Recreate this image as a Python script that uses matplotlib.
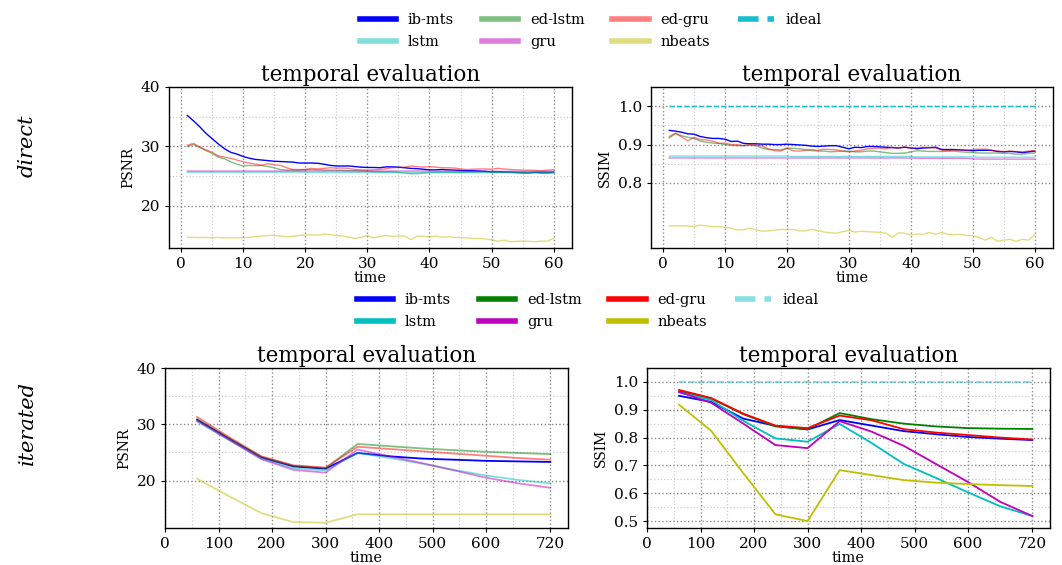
import matplotlib
matplotlib.use("Agg")
import matplotlib.pyplot as plt
from matplotlib.ticker import FixedLocator

plt.rcParams['font.family'] = ['DejaVu Serif']

labels = ['ib-mts', 'ed-lstm', 'ed-gru', 'ideal', 'lstm', 'gru', 'nbeats']
# legend fills column by column, this order gives the rows of the original
leg_order = [0, 4, 1, 5, 2, 6, 3]

# direct evaluation, steps 1..60
t_direct = list(range(1, 61))

psnr_ibmts = [35.2, 34.3, 33.3, 32.2, 31.3, 30.4, 29.6, 29.0, 28.7, 28.3,
              28.0, 27.8, 27.7, 27.6, 27.5, 27.45, 27.4, 27.35, 27.2, 27.2,
              27.2, 27.15, 27.0, 26.8, 26.7, 26.7, 26.7, 26.6, 26.5, 26.45,
              26.45, 26.4, 26.55, 26.55, 26.5, 26.4, 26.3, 26.25, 26.15, 26.05,
              26.05, 26.1, 26.05, 26.0, 25.95, 25.9, 25.9, 25.85, 25.8, 25.7,
              25.7, 25.65, 25.65, 25.6, 25.55, 25.55, 25.6, 25.55, 25.55, 25.6]
psnr_edgru = [30.2, 30.5, 29.9, 29.4, 29.0, 28.4, 28.2, 28.0, 27.7, 27.4,
              27.2, 27.0, 26.8, 27.1, 26.9, 26.8, 26.4, 26.1, 26.1, 26.1,
              26.3, 26.2, 26.3, 26.4, 26.35, 26.35, 26.3, 26.1, 26.05, 26.0,
              26.05, 26.1, 26.25, 26.4, 26.45, 26.5, 26.7, 26.6, 26.5, 26.6,
              26.5, 26.4, 26.4, 26.35, 26.2, 26.1, 26.15, 26.2, 26.2, 26.15,
              26.3, 26.2, 26.1, 26.05, 26.0, 26.0, 25.95, 25.9, 26.0, 26.1]
psnr_edlstm = [30.0, 30.3, 29.8, 29.3, 28.8, 28.2, 27.9, 27.4, 27.0, 26.7,
               26.8, 26.75, 26.8, 26.6, 26.4, 26.1, 26.0, 26.0, 26.0, 26.1,
               26.1, 26.05, 26.0, 26.0, 26.0, 25.95, 25.9, 25.9, 25.85, 25.8,
               25.75, 25.7, 25.7, 25.7, 25.6, 25.5, 25.4, 25.4, 25.5, 25.6,
               25.6, 25.6, 25.65, 25.6, 25.6, 25.65, 25.65, 25.7, 25.7, 25.7,
               25.7, 25.65, 25.6, 25.6, 25.6, 25.6, 25.65, 25.7, 25.7, 25.7]
psnr_lstm = [25.65, 25.65, 25.65, 25.65, 25.65, 25.65, 25.65, 25.65, 25.65, 25.65,
             25.65, 25.65, 25.65, 25.65, 25.65, 25.65, 25.65, 25.65, 25.65, 25.65,
             25.6, 25.6, 25.6, 25.6, 25.6, 25.6, 25.6, 25.6, 25.6, 25.6,
             25.6, 25.6, 25.6, 25.6, 25.6, 25.6, 25.6, 25.6, 25.6, 25.6,
             25.6, 25.6, 25.6, 25.6, 25.6, 25.6, 25.6, 25.6, 25.6, 25.6,
             25.6, 25.6, 25.6, 25.6, 25.6, 25.6, 25.6, 25.6, 25.6, 25.6]
psnr_gru = [25.85, 25.85, 25.85, 25.85, 25.85, 25.85, 25.85, 25.85, 25.85, 25.85,
            25.85, 25.85, 25.85, 25.85, 25.85, 25.85, 25.85, 25.85, 25.85, 25.85,
            25.85, 25.85, 25.85, 25.85, 25.85, 25.85, 25.85, 25.85, 25.85, 25.85,
            25.85, 25.85, 25.85, 25.85, 25.85, 25.85, 25.85, 25.85, 25.85, 25.85,
            25.8, 25.8, 25.8, 25.8, 25.8, 25.8, 25.8, 25.8, 25.8, 25.8,
            25.8, 25.8, 25.8, 25.8, 25.8, 25.8, 25.8, 25.8, 25.8, 25.8]
psnr_nbeats = [14.7, 14.7, 14.65, 14.65, 14.6, 14.65, 14.6, 14.6, 14.6, 14.65,
               14.7, 14.8, 14.9, 15.0, 15.0, 14.9, 14.8, 14.85, 15.0, 15.1,
               15.1, 15.05, 15.2, 15.15, 15.0, 14.9, 14.75, 14.5, 14.7, 15.0,
               14.6, 14.8, 15.0, 14.85, 14.9, 14.9, 14.3, 14.9, 14.85, 14.75,
               14.9, 14.7, 14.8, 14.65, 14.65, 14.6, 14.5, 14.5, 14.4, 14.3,
               14.0, 14.2, 13.95, 14.0, 14.05, 14.0, 13.95, 14.05, 14.05, 14.5]

ssim_ibmts = [.937, .935, .932, .928, .927, .921, .918, .916, .916, .914,
              .908, .909, .903, .902, .902, .901, .901, .900, .900, .901,
              .900, .899, .898, .896, .895, .896, .897, .897, .893, .889,
              .893, .892, .895, .895, .894, .893, .892, .891, .893, .891,
              .889, .891, .892, .893, .887, .887, .887, .886, .885, .884,
              .885, .885, .885, .882, .881, .882, .881, .879, .881, .883]
ssim_edgru = [.917, .929, .920, .910, .919, .913, .912, .909, .903, .904,
              .900, .900, .897, .900, .899, .896, .889, .884, .883, .890,
              .884, .883, .885, .887, .885, .888, .887, .886, .883, .881,
              .883, .885, .889, .890, .891, .889, .893, .891, .894, .891,
              .892, .893, .892, .891, .885, .884, .885, .886, .885, .887,
              .888, .888, .885, .883, .882, .883, .882, .881, .883, .884]
ssim_edlstm = [.921, .929, .923, .919, .916, .909, .906, .904, .903, .900,
               .898, .897, .897, .898, .897, .891, .887, .887, .886, .891,
               .890, .889, .887, .884, .883, .883, .881, .882, .883, .883,
               .881, .881, .883, .883, .881, .879, .877, .877, .878, .881,
               .884, .883, .882, .882, .882, .883, .883, .881, .880, .879,
               .878, .878, .878, .878, .877, .877, .875, .875, .877, .878]
ssim_lstm = [.870, .870, .870, .870, .870, .870, .870, .870, .870, .870,
             .870, .870, .870, .870, .870, .870, .870, .870, .870, .870,
             .869, .869, .869, .869, .869, .869, .869, .869, .869, .869,
             .869, .869, .869, .869, .869, .869, .869, .869, .869, .869,
             .868, .868, .868, .868, .868, .868, .868, .868, .868, .868,
             .867, .867, .867, .867, .867, .867, .867, .867, .867, .867]
ssim_gru = [.865, .865, .865, .865, .865, .865, .865, .865, .865, .865,
            .865, .865, .865, .865, .865, .865, .865, .865, .865, .865,
            .865, .865, .865, .865, .865, .865, .865, .865, .865, .865,
            .865, .865, .865, .865, .865, .865, .865, .865, .865, .865,
            .864, .864, .864, .864, .864, .864, .864, .864, .864, .863,
            .862, .862, .862, .862, .862, .862, .862, .862, .862, .862]
ssim_nbeats = [.688, .688, .688, .688, .686, .690, .688, .686, .686, .684,
               .682, .677, .678, .682, .678, .674, .675, .677, .679, .678,
               .679, .675, .675, .679, .676, .672, .670, .669, .673, .676,
               .672, .674, .673, .672, .671, .669, .658, .670, .669, .664,
               .667, .666, .671, .666, .671, .666, .665, .666, .663, .663,
               .658, .651, .658, .648, .651, .653, .648, .653, .651, .665]
ssim_ideal_direct = [1.0] * len(t_direct)

# iterated evaluation
t_iter = [60, 120, 180, 240, 300, 360, 420, 480, 540, 600, 660, 720]

ipsnr_ibmts = [30.8, 27.4, 24.1, 22.5, 22.1, 24.9, 24.3, 23.9, 23.7, 23.5, 23.4, 23.3]
ipsnr_edlstm = [30.9, 27.5, 24.2, 22.6, 22.2, 26.5, 26.1, 25.7, 25.4, 25.1, 24.9, 24.7]
ipsnr_edgru = [31.3, 27.7, 24.3, 22.7, 22.3, 26.0, 25.6, 25.2, 24.8, 24.4, 24.0, 23.7]
ipsnr_lstm = [30.5, 27.2, 23.9, 22.2, 21.8, 24.9, 24.0, 23.0, 21.9, 20.9, 20.1, 19.5]
ipsnr_gru = [30.6, 27.2, 23.8, 21.9, 21.4, 25.5, 24.3, 23.1, 21.8, 20.5, 19.5, 18.7]
ipsnr_nbeats = [20.3, 17.2, 14.2, 12.6, 12.5, 14.0, 14.0, 14.0, 14.0, 14.0, 14.0, 14.0]

issim_ibmts = [.950, .928, .868, .842, .829, .863, .843, .823, .812, .802, .796, .791]
issim_edlstm = [.968, .940, .884, .840, .830, .888, .866, .850, .840, .834, .832, .831]
issim_edgru = [.971, .942, .886, .843, .834, .879, .862, .830, .818, .809, .800, .793]
issim_lstm = [.962, .935, .860, .797, .785, .849, .780, .705, .655, .603, .553, .518]
issim_gru = [.964, .925, .850, .773, .762, .859, .821, .770, .705, .640, .569, .518]
issim_nbeats = [.918, .824, .672, .524, .500, .683, .665, .647, .638, .633, .629, .626]
issim_ideal = [1.0] * len(t_iter)

W, H = 1062, 565
fig = plt.figure(figsize=(W / 100, H / 100), dpi=100)


def box(l, t, r, b):
    return [l / W, 1 - b / H, (r - l) / W, (b - t) / H]


def style(ax, xmaj, xmin, ymaj, ymin, ylabel):
    ax.xaxis.set_major_locator(FixedLocator(xmaj))
    ax.xaxis.set_minor_locator(FixedLocator(xmin))
    ax.yaxis.set_major_locator(FixedLocator(ymaj))
    ax.yaxis.set_minor_locator(FixedLocator(ymin))
    ax.grid(which='major', color='0.55', linestyle=':', linewidth=1.0)
    ax.grid(which='minor', color='0.8', linestyle=':', linewidth=0.9)
    ax.set_axisbelow(True)
    ax.tick_params(which='major', labelsize=11, length=3)
    ax.tick_params(which='minor', length=0)
    ax.set_title('temporal evaluation', fontsize=15.5, pad=4)
    ax.set_xlabel('time', fontsize=10.5, labelpad=0)
    ax.set_ylabel(ylabel, fontsize=10)
    for s in ax.spines.values():
        s.set_linewidth(1.0)


def add_legend(handles, xc, yc):
    hs = [handles[i] for i in leg_order]
    ls = [labels[i] for i in leg_order]
    leg = fig.legend(hs, ls, loc='center', bbox_to_anchor=(xc / W, 1 - yc / H),
                     ncol=4, frameon=False, fontsize=10.5, handlelength=2.5,
                     columnspacing=1.9)
    for ln in leg.get_lines():
        ln.set_linewidth(4)


# ---- direct row
ax1 = fig.add_axes(box(169, 87, 572, 248))
ax2 = fig.add_axes(box(651, 87, 1053, 248))
lw = 1.0
ax1.plot(t_direct, psnr_ibmts, color='b', lw=lw)
ax1.plot(t_direct, psnr_edlstm, color='g', alpha=0.5, lw=lw)
ax1.plot(t_direct, psnr_edgru, color='r', alpha=0.5, lw=lw)
ax1.plot(t_direct, psnr_lstm, color='c', alpha=0.5, lw=lw)
ax1.plot(t_direct, psnr_gru, color='m', alpha=0.5, lw=lw)
ax1.plot(t_direct, psnr_nbeats, color='y', alpha=0.5, lw=lw)
ax1.set_ylim(top=40)
style(ax1, range(0, 61, 10), range(5, 61, 10), [20, 30, 40], [25, 35], 'PSNR')

h = []
h += ax2.plot(t_direct, ssim_ibmts, color='b', lw=lw)
h += ax2.plot(t_direct, ssim_edlstm, color='g', alpha=0.5, lw=lw)
h += ax2.plot(t_direct, ssim_edgru, color='r', alpha=0.5, lw=lw)
h += ax2.plot(t_direct, ssim_ideal_direct, color='tab:cyan', ls='--', lw=lw)
h += ax2.plot(t_direct, ssim_lstm, color='c', alpha=0.5, lw=lw)
h += ax2.plot(t_direct, ssim_gru, color='m', alpha=0.5, lw=lw)
h += ax2.plot(t_direct, ssim_nbeats, color='y', alpha=0.5, lw=lw)
ax2.set_ylim(top=1.05)
style(ax2, range(0, 61, 10), range(5, 61, 10), [0.8, 0.9, 1.0], [0.85, 0.95], 'SSIM')
add_legend(h, 591, 31)

# ---- iterated row
ax3 = fig.add_axes(box(165, 368, 568, 528))
ax4 = fig.add_axes(box(647, 368, 1050, 528))
lw = 1.3
ax3.plot(t_iter, ipsnr_ibmts, color='b', lw=lw)
ax3.plot(t_iter, ipsnr_edlstm, color='g', alpha=0.5, lw=lw)
ax3.plot(t_iter, ipsnr_edgru, color='r', alpha=0.5, lw=lw)
ax3.plot(t_iter, ipsnr_lstm, color='c', alpha=0.5, lw=lw)
ax3.plot(t_iter, ipsnr_gru, color='m', alpha=0.5, lw=lw)
ax3.plot(t_iter, ipsnr_nbeats, color='y', alpha=0.5, lw=lw)
ax3.set_ylim(top=40)
ax3.set_xlim(left=0)
xt = [0, 100, 200, 300, 400, 500, 600, 720]
xm = [50, 150, 250, 350, 450, 550, 650]
style(ax3, xt, xm, [20, 30, 40], [25, 35], 'PSNR')

h = []
h += ax4.plot(t_iter, issim_ibmts, color='b', lw=lw)
h += ax4.plot(t_iter, issim_edlstm, color='g', lw=lw)
h += ax4.plot(t_iter, issim_edgru, color='r', lw=lw)
h += ax4.plot(t_iter, issim_ideal, color='tab:cyan', alpha=0.5, ls='--', lw=lw)
h += ax4.plot(t_iter, issim_lstm, color='c', lw=lw)
h += ax4.plot(t_iter, issim_gru, color='m', lw=lw)
h += ax4.plot(t_iter, issim_nbeats, color='y', lw=lw)
ax4.set_ylim(top=1.05)
ax4.set_xlim(left=0)
style(ax4, xt, xm, [0.5, 0.6, 0.7, 0.8, 0.9, 1.0],
      [0.55, 0.65, 0.75, 0.85, 0.95], 'SSIM')
add_legend(h, 588, 311)

# row labels
fig.text(27 / W, 1 - 146 / H, 'direct', rotation=90, style='italic',
         fontsize=15, ha='center', va='center')
fig.text(27 / W, 1 - 423 / H, 'iterated', rotation=90, style='italic',
         fontsize=15, ha='center', va='center')

fig.savefig('out.png', dpi=100)
